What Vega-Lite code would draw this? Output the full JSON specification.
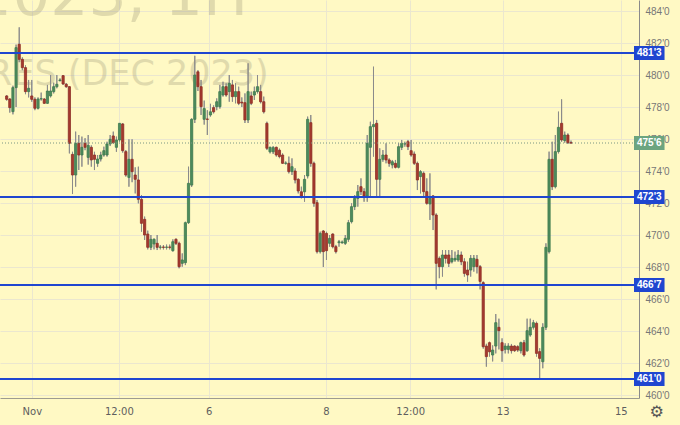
{
  "$schema": "https://vega.github.io/schema/vega-lite/v6.json",
  "width": 639,
  "height": 398,
  "autosize": {"type": "none"},
  "padding": {"left": 0, "top": 0, "right": 41, "bottom": 27},
  "background": "#fff9c4",
  "config": {
    "view": {"stroke": null, "fill": "#fff9c4"},
    "axis": {"labelOverlap": false, "labelSeparation": 0, "labelFlush": false}
  },
  "data": {"values": [
    {"i":1,"o":478.69,"h":478.75,"l":478.4,"c":478.48},
    {"i":2,"o":478.5,"h":478.55,"l":477.65,"c":477.96},
    {"i":3,"o":477.71,"h":479.33,"l":477.54,"c":479.21},
    {"i":4,"o":479.21,"h":481.9,"l":478.0,"c":481.71},
    {"i":5,"o":481.92,"h":482.98,"l":480.8,"c":480.98},
    {"i":6,"o":480.98,"h":481.1,"l":480.3,"c":480.46},
    {"i":7,"o":480.46,"h":480.6,"l":478.8,"c":478.96},
    {"i":8,"o":478.96,"h":479.69,"l":478.6,"c":479.17},
    {"i":9,"o":478.69,"h":479.69,"l":478.33,"c":478.48},
    {"i":10,"o":478.48,"h":478.6,"l":477.8,"c":477.92},
    {"i":11,"o":477.92,"h":478.6,"l":477.85,"c":478.5},
    {"i":12,"o":478.5,"h":478.9,"l":478.4,"c":478.52},
    {"i":13,"o":478.5,"h":478.55,"l":478.2,"c":478.23},
    {"i":14,"o":478.23,"h":479.38,"l":478.2,"c":479.0},
    {"i":15,"o":478.69,"h":480.0,"l":478.6,"c":479.0},
    {"i":16,"o":478.96,"h":479.52,"l":478.85,"c":479.27},
    {"i":17,"o":479.27,"h":480.0,"l":479.17,"c":479.42},
    {"i":18,"o":479.65,"h":479.79,"l":479.6,"c":479.69},
    {"i":19,"o":479.96,"h":480.0,"l":479.38,"c":479.44},
    {"i":20,"o":479.42,"h":479.5,"l":479.2,"c":479.27},
    {"i":21,"o":479.27,"h":479.3,"l":475.1,"c":475.73},
    {"i":22,"o":475.04,"h":475.2,"l":472.56,"c":473.75},
    {"i":23,"o":473.75,"h":476.46,"l":473.02,"c":475.73},
    {"i":24,"o":475.73,"h":476.25,"l":474.06,"c":475.0},
    {"i":25,"o":475.0,"h":476.15,"l":474.27,"c":475.48},
    {"i":26,"o":475.73,"h":476.05,"l":475.3,"c":475.48},
    {"i":27,"o":474.85,"h":476.25,"l":474.4,"c":475.6},
    {"i":28,"o":475.48,"h":475.6,"l":474.27,"c":474.69},
    {"i":29,"o":475.0,"h":475.2,"l":474.06,"c":474.73},
    {"i":30,"o":474.48,"h":475.0,"l":474.27,"c":474.75},
    {"i":31,"o":474.75,"h":475.2,"l":474.6,"c":475.0},
    {"i":32,"o":475.0,"h":475.52,"l":474.9,"c":475.27},
    {"i":33,"o":475.0,"h":475.83,"l":474.9,"c":475.69},
    {"i":34,"o":475.69,"h":476.25,"l":475.56,"c":475.98},
    {"i":35,"o":476.19,"h":476.46,"l":475.7,"c":475.77},
    {"i":36,"o":475.48,"h":476.15,"l":475.2,"c":475.94},
    {"i":37,"o":475.94,"h":477.0,"l":475.83,"c":476.98},
    {"i":38,"o":476.94,"h":477.0,"l":475.15,"c":475.27},
    {"i":39,"o":475.21,"h":475.31,"l":473.65,"c":473.75},
    {"i":40,"o":473.6,"h":475.98,"l":473.02,"c":474.73},
    {"i":41,"o":474.73,"h":475.98,"l":473.3,"c":473.96},
    {"i":42,"o":473.75,"h":474.23,"l":472.6,"c":473.48},
    {"i":43,"o":473.44,"h":474.27,"l":471.98,"c":472.23},
    {"i":44,"o":472.23,"h":472.5,"l":470.21,"c":470.73},
    {"i":45,"o":470.98,"h":471.15,"l":469.69,"c":470.0},
    {"i":46,"o":470.06,"h":470.27,"l":469.1,"c":469.23},
    {"i":47,"o":469.23,"h":470.0,"l":469.06,"c":469.73},
    {"i":48,"o":469.44,"h":469.79,"l":469.1,"c":469.73},
    {"i":49,"o":469.48,"h":470.0,"l":469.06,"c":469.23},
    {"i":50,"o":469.23,"h":469.375,"l":469.1,"c":469.25},
    {"i":51,"o":469.25,"h":469.375,"l":469.1,"c":469.23},
    {"i":52,"o":469.23,"h":469.4,"l":469.1,"c":469.25},
    {"i":53,"o":469.25,"h":469.4,"l":469.1,"c":469.23},
    {"i":54,"o":469.02,"h":469.73,"l":468.96,"c":469.58},
    {"i":55,"o":469.73,"h":469.79,"l":469.375,"c":469.48},
    {"i":56,"o":469.48,"h":469.58,"l":467.92,"c":468.02},
    {"i":57,"o":468.23,"h":468.85,"l":468.02,"c":468.44},
    {"i":58,"o":468.27,"h":470.83,"l":468.12,"c":470.77},
    {"i":59,"o":470.77,"h":474.27,"l":470.69,"c":473.23},
    {"i":60,"o":473.12,"h":477.29,"l":473.0,"c":477.23},
    {"i":61,"o":477.23,"h":481.2,"l":477.0,"c":480.0},
    {"i":62,"o":480.2,"h":480.3,"l":479.0,"c":479.27},
    {"i":63,"o":479.27,"h":479.69,"l":477.5,"c":478.02},
    {"i":64,"o":477.23,"h":478.4,"l":476.9,"c":477.9},
    {"i":65,"o":477.25,"h":477.8,"l":476.25,"c":477.23},
    {"i":66,"o":477.5,"h":478.2,"l":477.4,"c":477.7},
    {"i":67,"o":477.96,"h":478.1,"l":477.6,"c":477.7},
    {"i":68,"o":478.02,"h":478.54,"l":477.8,"c":478.33},
    {"i":69,"o":478.02,"h":479.38,"l":477.9,"c":478.96},
    {"i":70,"o":478.75,"h":479.58,"l":478.65,"c":479.27},
    {"i":71,"o":479.27,"h":479.48,"l":478.65,"c":478.75},
    {"i":72,"o":478.96,"h":480.0,"l":478.33,"c":479.48},
    {"i":73,"o":479.38,"h":479.69,"l":478.33,"c":478.65},
    {"i":74,"o":478.65,"h":479.48,"l":478.23,"c":478.96},
    {"i":75,"o":478.96,"h":479.27,"l":478.12,"c":478.23},
    {"i":76,"o":478.3,"h":478.6,"l":478.0,"c":478.25},
    {"i":77,"o":478.27,"h":478.85,"l":477.0,"c":477.19},
    {"i":78,"o":477.19,"h":480.73,"l":477.0,"c":478.96},
    {"i":79,"o":478.69,"h":478.96,"l":478.12,"c":478.23},
    {"i":80,"o":478.75,"h":479.27,"l":478.44,"c":478.96},
    {"i":81,"o":478.96,"h":480.0,"l":478.85,"c":479.27},
    {"i":82,"o":478.96,"h":479.38,"l":478.23,"c":478.33},
    {"i":83,"o":478.33,"h":478.65,"l":477.6,"c":477.7},
    {"i":84,"o":476.98,"h":477.08,"l":475.31,"c":475.42},
    {"i":85,"o":475.2,"h":475.52,"l":475.1,"c":475.48},
    {"i":86,"o":475.2,"h":475.56,"l":475.06,"c":475.46},
    {"i":87,"o":475.48,"h":475.52,"l":474.9,"c":475.0},
    {"i":88,"o":475.3,"h":475.4,"l":474.8,"c":474.9},
    {"i":89,"o":475.0,"h":475.1,"l":474.44,"c":474.48},
    {"i":90,"o":474.48,"h":474.6,"l":474.4,"c":474.5},
    {"i":91,"o":474.48,"h":474.9,"l":473.85,"c":473.96},
    {"i":92,"o":473.96,"h":474.79,"l":473.75,"c":474.27},
    {"i":93,"o":474.0,"h":474.17,"l":473.23,"c":473.44},
    {"i":94,"o":473.48,"h":473.54,"l":472.6,"c":472.75},
    {"i":95,"o":472.7,"h":473.02,"l":472.29,"c":472.44},
    {"i":96,"o":472.7,"h":473.75,"l":472.08,"c":473.48},
    {"i":97,"o":473.69,"h":477.4,"l":473.54,"c":477.23},
    {"i":98,"o":477.02,"h":477.5,"l":474.27,"c":474.48},
    {"i":99,"o":474.48,"h":474.58,"l":471.77,"c":471.98},
    {"i":100,"o":472.02,"h":472.19,"l":468.85,"c":468.96},
    {"i":101,"o":468.96,"h":470.21,"l":468.85,"c":470.1},
    {"i":102,"o":470.25,"h":470.31,"l":468.0,"c":468.96},
    {"i":103,"o":470.1,"h":470.2,"l":468.44,"c":469.02},
    {"i":104,"o":469.48,"h":470.0,"l":469.27,"c":469.79},
    {"i":105,"o":470.06,"h":470.1,"l":469.17,"c":469.27},
    {"i":106,"o":469.27,"h":469.38,"l":468.85,"c":468.96},
    {"i":107,"o":469.52,"h":469.69,"l":469.27,"c":469.58},
    {"i":108,"o":469.52,"h":469.65,"l":469.45,"c":469.56},
    {"i":109,"o":469.48,"h":470.0,"l":469.38,"c":469.79},
    {"i":110,"o":469.73,"h":470.94,"l":469.58,"c":470.77},
    {"i":111,"o":470.83,"h":471.98,"l":470.73,"c":471.77},
    {"i":112,"o":471.77,"h":472.5,"l":471.56,"c":472.29},
    {"i":113,"o":472.29,"h":473.125,"l":471.77,"c":472.71},
    {"i":114,"o":473.02,"h":473.54,"l":472.5,"c":472.71},
    {"i":115,"o":472.71,"h":472.92,"l":472.08,"c":472.44},
    {"i":116,"o":472.44,"h":476.25,"l":472.08,"c":475.73},
    {"i":117,"o":475.48,"h":477.08,"l":472.4,"c":476.77},
    {"i":118,"o":476.77,"h":480.52,"l":474.9,"c":476.9},
    {"i":119,"o":476.98,"h":477.19,"l":472.4,"c":473.48},
    {"i":120,"o":473.48,"h":475.42,"l":472.4,"c":474.73},
    {"i":121,"o":474.73,"h":475.31,"l":474.58,"c":475.0},
    {"i":122,"o":475.0,"h":475.73,"l":474.48,"c":474.69},
    {"i":123,"o":474.69,"h":474.79,"l":474.27,"c":474.48},
    {"i":124,"o":474.38,"h":474.69,"l":474.17,"c":474.58},
    {"i":125,"o":474.48,"h":474.69,"l":474.17,"c":474.23},
    {"i":126,"o":474.23,"h":475.73,"l":474.17,"c":475.52},
    {"i":127,"o":475.48,"h":475.94,"l":475.31,"c":475.73},
    {"i":128,"o":475.69,"h":475.83,"l":475.52,"c":475.7},
    {"i":129,"o":475.83,"h":475.94,"l":475.31,"c":475.52},
    {"i":130,"o":475.27,"h":475.94,"l":474.9,"c":475.0},
    {"i":131,"o":475.06,"h":475.21,"l":474.38,"c":474.48},
    {"i":132,"o":474.48,"h":474.58,"l":472.81,"c":473.44},
    {"i":133,"o":473.65,"h":474.06,"l":472.6,"c":473.96},
    {"i":134,"o":473.85,"h":473.96,"l":472.4,"c":472.71},
    {"i":135,"o":472.71,"h":473.54,"l":471.9,"c":471.98},
    {"i":136,"o":471.94,"h":473.85,"l":470.94,"c":472.29},
    {"i":137,"o":472.44,"h":472.5,"l":470.31,"c":471.25},
    {"i":138,"o":471.25,"h":471.35,"l":466.6,"c":468.23},
    {"i":139,"o":468.54,"h":468.65,"l":467.3,"c":468.02},
    {"i":140,"o":468.02,"h":469.06,"l":467.4,"c":468.75},
    {"i":141,"o":468.75,"h":469.06,"l":468.23,"c":468.54},
    {"i":142,"o":468.75,"h":469.06,"l":468.0,"c":468.23},
    {"i":143,"o":468.33,"h":469.06,"l":468.23,"c":468.54},
    {"i":144,"o":468.44,"h":468.96,"l":468.33,"c":468.54},
    {"i":145,"o":468.44,"h":469.06,"l":468.33,"c":468.75},
    {"i":146,"o":468.75,"h":468.96,"l":468.12,"c":468.33},
    {"i":147,"o":468.33,"h":468.54,"l":467.4,"c":467.6},
    {"i":148,"o":467.81,"h":468.33,"l":467.08,"c":467.5},
    {"i":149,"o":467.81,"h":468.75,"l":467.4,"c":468.54},
    {"i":150,"o":468.02,"h":468.75,"l":467.71,"c":468.54},
    {"i":151,"o":468.48,"h":468.75,"l":467.6,"c":468.02},
    {"i":152,"o":468.02,"h":468.12,"l":466.6,"c":467.1},
    {"i":153,"o":467.02,"h":467.1,"l":462.9,"c":463.02},
    {"i":154,"o":463.06,"h":463.2,"l":461.77,"c":462.4},
    {"i":155,"o":463.27,"h":463.33,"l":462.4,"c":462.7},
    {"i":156,"o":462.5,"h":463.1,"l":462.1,"c":462.81},
    {"i":157,"o":463.06,"h":465.06,"l":462.6,"c":464.52},
    {"i":158,"o":464.23,"h":464.77,"l":462.85,"c":464.02},
    {"i":159,"o":463.27,"h":463.54,"l":462.08,"c":462.77},
    {"i":160,"o":462.85,"h":463.23,"l":462.6,"c":463.06},
    {"i":161,"o":462.85,"h":463.23,"l":462.6,"c":463.06},
    {"i":162,"o":463.06,"h":463.19,"l":462.6,"c":462.77},
    {"i":163,"o":463.06,"h":463.1,"l":462.7,"c":462.77},
    {"i":164,"o":463.02,"h":463.1,"l":462.7,"c":462.81},
    {"i":165,"o":462.77,"h":463.33,"l":462.6,"c":463.27},
    {"i":166,"o":463.27,"h":463.44,"l":462.4,"c":462.5},
    {"i":167,"o":462.77,"h":464.77,"l":462.7,"c":464.02},
    {"i":168,"o":463.75,"h":464.77,"l":463.65,"c":464.23},
    {"i":169,"o":464.23,"h":464.69,"l":464.1,"c":464.52},
    {"i":170,"o":464.48,"h":464.58,"l":462.4,"c":462.6},
    {"i":171,"o":462.71,"h":462.92,"l":461.04,"c":462.29},
    {"i":172,"o":462.08,"h":464.48,"l":461.67,"c":464.23},
    {"i":173,"o":464.23,"h":469.48,"l":464.06,"c":469.23},
    {"i":174,"o":468.96,"h":475.21,"l":468.85,"c":474.73},
    {"i":175,"o":474.73,"h":475.83,"l":472.81,"c":473.02},
    {"i":176,"o":473.02,"h":476.25,"l":472.92,"c":475.21},
    {"i":177,"o":475.21,"h":477.71,"l":475.1,"c":476.73},
    {"i":178,"o":476.98,"h":478.48,"l":475.83,"c":475.94},
    {"i":179,"o":475.9,"h":476.46,"l":475.77,"c":476.25},
    {"i":180,"o":476.25,"h":476.35,"l":475.69,"c":475.77},
    {"i":181,"o":475.77,"h":475.9,"l":475.7,"c":475.75}
  ]},
  "layer": [
    {
      "mark": {"type": "rule", "color": "#8b8b8b", "strokeWidth": 1},
      "encoding": {
        "x": {"field": "i", "type": "quantitative", "title": null,
          "scale": {"domain": [0.466, 201.09], "nice": false, "zero": false},
          "axis": {"values": [9.04, 36.8, 65.4, 102.8, 129.7, 159.2, 196.9],
            "labelExpr": "datum.value < 20 ? 'Nov' : datum.value < 50 ? '12:00' : datum.value < 80 ? '6' : datum.value < 115 ? '8' : datum.value < 140 ? '12:00' : datum.value < 170 ? '13' : '15'",
            "grid": true, "gridColor": "#ebe7cf", "gridWidth": 1, "ticks": false,
            "domain": true, "domainColor": "#9d9b90", "labelColor": "#5e5e5e",
            "labelFont": "DejaVu Sans", "labelFontSize": 10, "labelPadding": 8,
            "labelFlush": false, "labelOverlap": false, "title": null}},
        "y": {"field": "l", "type": "quantitative", "title": null,
          "scale": {"domain": [459.8125, 484.6875], "nice": false, "zero": false},
          "axis": {"orient": "right", "values": [460, 462, 464, 466, 468, 470, 472, 474, 476, 478, 480, 482, 484],
            "tickCount": 13,
            "labelExpr": "datum.value + \"'0\"",
            "grid": true, "gridColor": "#ebe7cf", "gridWidth": 1, "ticks": false,
            "domain": true, "domainColor": "#8a8a8a", "labelColor": "#777777",
            "labelFont": "Liberation Sans", "labelFontSize": 10, "labelPadding": 6,
            "labelFlush": false, "labelOverlap": false, "labelSeparation": 0, "title": null}},
        "y2": {"field": "h"}
      }
    },
    {
      "data": {"values": [{"t": "ZCZ2023, 1H"}]},
      "mark": {"type": "text", "align": "right", "baseline": "alphabetic", "font": "DejaVu Sans", "fontSize": 60, "color": "#9b9677", "opacity": 0.3, "clip": true},
      "encoding": {"x": {"datum": 78.0}, "y": {"datum": 483.75}, "text": {"field": "t"}}
    },
    {
      "data": {"values": [{"t": "CORN FUTURES (DEC 2023)"}]},
      "mark": {"type": "text", "align": "right", "baseline": "alphabetic", "font": "DejaVu Sans", "fontSize": 35, "color": "#9b9677", "opacity": 0.3, "clip": true},
      "encoding": {"x": {"datum": 84.6}, "y": {"datum": 479.375}, "text": {"field": "t"}}
    },
    {
      "mark": {"type": "rule", "color": "#8b8b8b", "strokeWidth": 1},
      "encoding": {
        "x": {"field": "i", "type": "quantitative"},
        "y": {"field": "l", "type": "quantitative"},
        "y2": {"field": "h"}
      }
    },
    {
      "mark": {"type": "bar", "width": 2.2, "strokeWidth": 0.8},
      "encoding": {
        "x": {"field": "i", "type": "quantitative"},
        "y": {"field": "o", "type": "quantitative"},
        "y2": {"field": "c"},
        "fill": {"condition": {"test": "datum.c >= datum.o", "value": "#4d8c5d"}, "value": "#a63a2f"},
        "stroke": {"condition": {"test": "datum.c >= datum.o", "value": "#3f7a4f"}, "value": "#8e2f26"}
      }
    },
    {
      "data": {"values": [{"p": 475.75, "label": "475'6"}]},
      "layer": [
        {"mark": {"type": "rule", "color": "#7a9682", "strokeWidth": 1, "strokeDash": [1, 2]},
         "encoding": {"y": {"field": "p", "type": "quantitative"}}},
        {"mark": {"type": "rule", "color": "#6ca580", "strokeWidth": 14, "strokeCap": "butt"},
         "encoding": {"x": {"datum": 201.09}, "x2": {"datum": 210.83}, "y": {"field": "p", "type": "quantitative"}}},
        {"mark": {"type": "text", "color": "#ffffff", "fontWeight": "bold", "fontSize": 10, "font": "Liberation Sans", "align": "center", "baseline": "middle"},
         "encoding": {"x": {"datum": 205.96}, "y": {"field": "p", "type": "quantitative"}, "text": {"field": "label"}}}
      ]
    },
    {
      "data": {"values": [
        {"p": 481.375, "label": "481'3"},
        {"p": 472.375, "label": "472'3"},
        {"p": 466.875, "label": "466'7"},
        {"p": 461.0, "label": "461'0"}
      ]},
      "layer": [
        {"mark": {"type": "rule", "color": "#1f46d0", "strokeWidth": 2},
         "encoding": {"y": {"field": "p", "type": "quantitative"}}},
        {"mark": {"type": "rule", "color": "#1f46d0", "strokeWidth": 14, "strokeCap": "butt"},
         "encoding": {"x": {"datum": 201.09}, "x2": {"datum": 210.83}, "y": {"field": "p", "type": "quantitative"}}},
        {"mark": {"type": "text", "color": "#ffffff", "fontWeight": "bold", "fontSize": 10, "font": "Liberation Sans", "align": "center", "baseline": "middle"},
         "encoding": {"x": {"datum": 205.96}, "y": {"field": "p", "type": "quantitative"}, "text": {"field": "label"}}}
      ]
    },
    {
      "data": {"values": [{"t": "⚙"}]},
      "mark": {"type": "text", "font": "DejaVu Sans", "fontSize": 16, "color": "#555555", "align": "center", "baseline": "middle"},
      "encoding": {"x": {"datum": 208.3}, "y": {"datum": 458.94}, "text": {"field": "t"}}
    }
  ]
}
